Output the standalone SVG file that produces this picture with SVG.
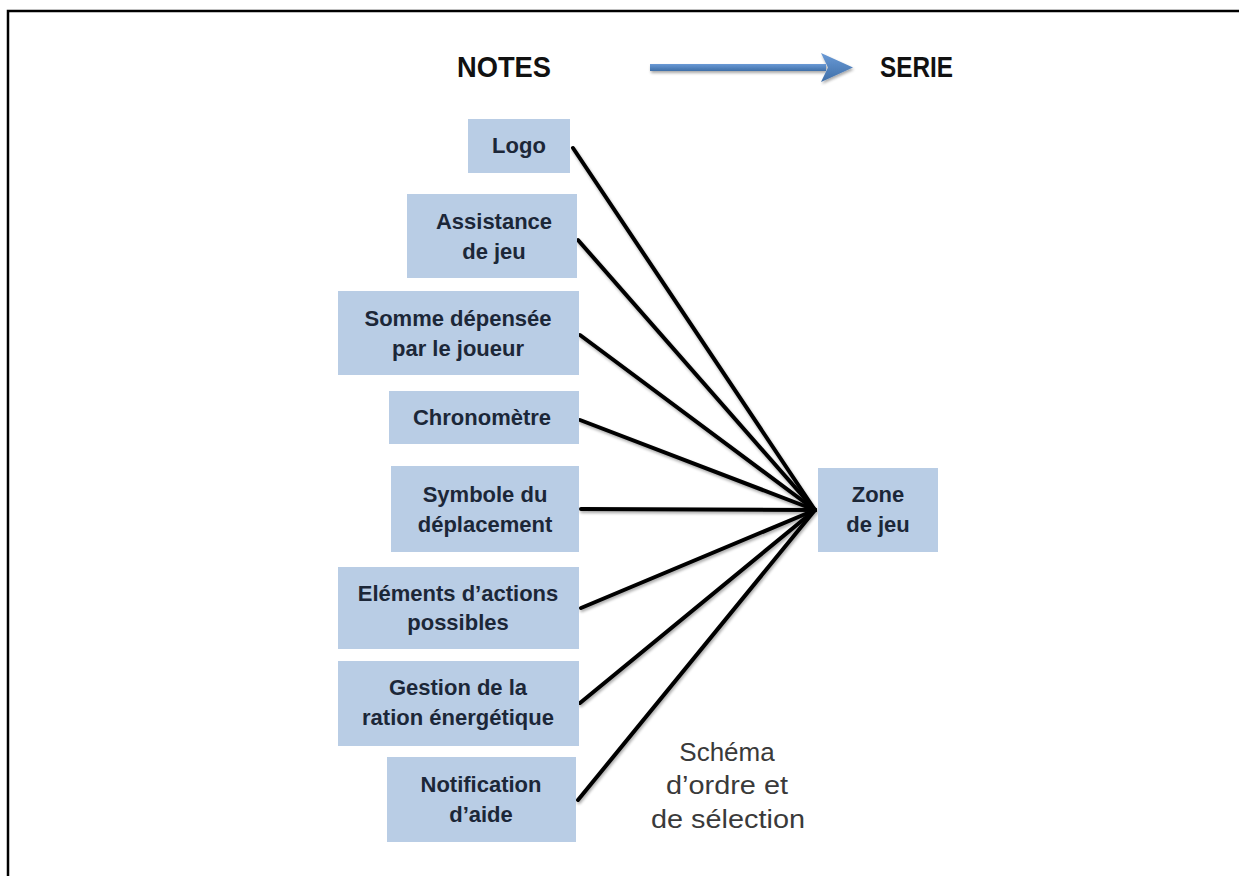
<svg xmlns="http://www.w3.org/2000/svg" width="1239" height="876" viewBox="0 0 1239 876">
  <defs>
    <style>
      .box { fill: #b9cde5; }
      .lbl { font-family: "Liberation Sans", Arial, sans-serif; font-weight: bold; font-size: 22px; fill: #1c2738; text-anchor: middle; }
      .hdr { font-family: "Liberation Sans", Arial, sans-serif; font-weight: bold; font-size: 30px; fill: #111111; }
      .note { font-family: "Liberation Sans", Arial, sans-serif; font-size: 26px; fill: #3a3a3a; text-anchor: middle; }
      .conn { stroke: #000000; stroke-width: 4; stroke-linecap: round; fill: none; }
    </style>
    <filter id="shadow" x="-10%" y="-10%" width="120%" height="130%">
      <feGaussianBlur in="SourceAlpha" stdDeviation="1.5"/>
      <feOffset dx="1" dy="2" result="b"/>
      <feComponentTransfer><feFuncA type="linear" slope="0.35"/></feComponentTransfer>
      <feMerge><feMergeNode/><feMergeNode in="SourceGraphic"/></feMerge>
    </filter>
    <linearGradient id="arrowGrad" x1="0" y1="0" x2="0" y2="1">
      <stop offset="0" stop-color="#6a9ad6"/>
      <stop offset="1" stop-color="#3f6fa8"/>
    </linearGradient>
  </defs>

  <rect x="0" y="0" width="1239" height="876" fill="#ffffff"/>
  <rect x="8" y="11" width="1250" height="880" fill="none" stroke="#000000" stroke-width="2.5"/>

  <g id="header">
    <text class="hdr" x="457" y="77" textLength="94" lengthAdjust="spacingAndGlyphs">NOTES</text>
    <g filter="url(#shadow)">
      <rect x="650" y="64" width="176" height="7" fill="url(#arrowGrad)"/>
      <polygon points="821,53 853,67.5 821,82 828,67.5" fill="url(#arrowGrad)"/>
    </g>
    <text class="hdr" x="880" y="77" textLength="73" lengthAdjust="spacingAndGlyphs">SERIE</text>
  </g>

  <g id="connectors" filter="url(#shadow)">
    <line class="conn" x1="573" y1="148" x2="815" y2="510"/>
    <line class="conn" x1="578" y1="240" x2="815" y2="510"/>
    <line class="conn" x1="580" y1="335" x2="815" y2="510"/>
    <line class="conn" x1="580" y1="420" x2="815" y2="510"/>
    <line class="conn" x1="581" y1="509" x2="815" y2="510"/>
    <line class="conn" x1="581" y1="608" x2="815" y2="510"/>
    <line class="conn" x1="580" y1="703" x2="815" y2="510"/>
    <line class="conn" x1="578" y1="800" x2="815" y2="510"/>
  </g>

  <g id="logo">
    <rect class="box" x="468" y="119" width="102" height="54"/>
    <text class="lbl" x="519" y="153">Logo</text>
  </g>
  <g id="assistance">
    <rect class="box" x="407" y="194" width="170" height="84"/>
    <text class="lbl" x="494" y="229">Assistance</text>
    <text class="lbl" x="494" y="259">de jeu</text>
  </g>
  <g id="somme">
    <rect class="box" x="338" y="291" width="241" height="84"/>
    <text class="lbl" x="458" y="326">Somme dépensée</text>
    <text class="lbl" x="458" y="356">par le joueur</text>
  </g>
  <g id="chronometre">
    <rect class="box" x="389" y="391" width="190" height="53"/>
    <text class="lbl" x="482" y="425">Chronomètre</text>
  </g>
  <g id="symbole">
    <rect class="box" x="391" y="466" width="188" height="86"/>
    <text class="lbl" x="485" y="502">Symbole du</text>
    <text class="lbl" x="485" y="532">déplacement</text>
  </g>
  <g id="elements">
    <rect class="box" x="338" y="567" width="241" height="82"/>
    <text class="lbl" x="458" y="601">Eléments d’actions</text>
    <text class="lbl" x="458" y="630">possibles</text>
  </g>
  <g id="gestion">
    <rect class="box" x="338" y="661" width="241" height="85"/>
    <text class="lbl" x="458" y="695">Gestion de la</text>
    <text class="lbl" x="458" y="725">ration énergétique</text>
  </g>
  <g id="notification">
    <rect class="box" x="387" y="757" width="189" height="85"/>
    <text class="lbl" x="481" y="792">Notification</text>
    <text class="lbl" x="481" y="822">d’aide</text>
  </g>
  <g id="zone">
    <rect class="box" x="818" y="468" width="120" height="84"/>
    <text class="lbl" x="878" y="502">Zone</text>
    <text class="lbl" x="878" y="532">de jeu</text>
  </g>

  <g id="caption">
    <text class="note" x="727" y="761">Schéma</text>
    <text class="note" x="727" y="794" textLength="122" lengthAdjust="spacingAndGlyphs">d’ordre et</text>
    <text class="note" x="728" y="828" textLength="154" lengthAdjust="spacingAndGlyphs">de sélection</text>
  </g>
</svg>
